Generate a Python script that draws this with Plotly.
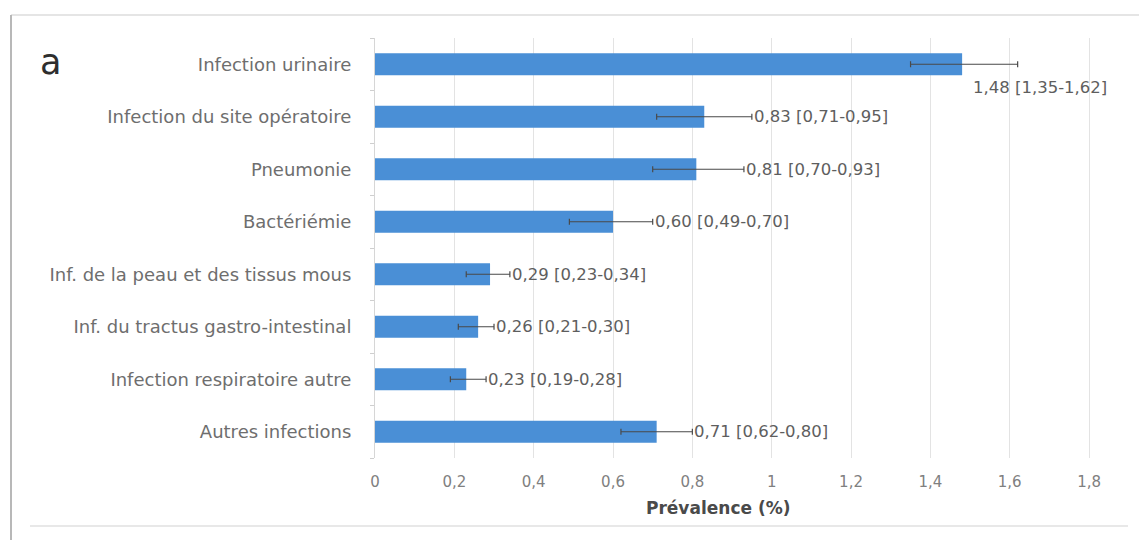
import plotly.graph_objects as go

categories = [
    "Infection urinaire",
    "Infection du site opératoire",
    "Pneumonie",
    "Bactériémie",
    "Inf. de la peau et des tissus mous",
    "Inf. du tractus gastro-intestinal",
    "Infection respiratoire autre",
    "Autres infections",
]
values = [1.48, 0.83, 0.81, 0.60, 0.29, 0.26, 0.23, 0.71]
ci_low = [1.35, 0.71, 0.70, 0.49, 0.23, 0.21, 0.19, 0.62]
ci_high = [1.62, 0.95, 0.93, 0.70, 0.34, 0.30, 0.28, 0.80]
tick_vals = [0, 0.2, 0.4, 0.6, 0.8, 1.0, 1.2, 1.4, 1.6, 1.8]
tick_text = ["0", "0,2", "0,4", "0,6", "0,8", "1", "1,2", "1,4", "1,6", "1,8"]
axis_title = "Prévalence (%)"
panel_letter = "a"

def fr(v):
    return f"{v:.2f}".replace(".", ",")

labels = [f"{fr(v)} [{fr(l)}-{fr(h)}]" for v, l, h in zip(values, ci_low, ci_high)]

W, H = 1139, 540
ML, MR, MT, MB = 375, 10, 38, 82
PW, PH = W - ML - MR, H - MT - MB
FONT = "DejaVu Sans"

def px_x(p):
    return (p - ML) / PW

def px_y(p):
    return (H - MB - p) / PH

fig = go.Figure()
fig.add_trace(go.Bar(
    y=categories, x=values, orientation="h",
    marker=dict(color="#4a8fd6", line=dict(width=0)),
    width=0.42,
    error_x=dict(type="data", symmetric=False,
                 array=[h - v for v, h in zip(values, ci_high)],
                 arrayminus=[v - l for v, l in zip(values, ci_low)],
                 color="#4a4a4a", thickness=1.2, width=3),
    hoverinfo="skip",
))

for i, (c, h, lab) in enumerate(zip(categories, ci_high, labels)):
    if i == 0:
        fig.add_annotation(x=values[i], y=c, text=lab, showarrow=False,
                           xanchor="left", yanchor="middle", yshift=-23, xshift=9,
                           font=dict(family=FONT, size=16.5, color="#5e5e5e"))
    else:
        fig.add_annotation(x=h, y=c, text=lab, showarrow=False,
                           xanchor="left", yanchor="middle", xshift=0,
                           font=dict(family=FONT, size=16.5, color="#5e5e5e"))

# panel letter
fig.add_annotation(xref="paper", yref="paper", x=px_x(38), y=px_y(62), text=panel_letter,
                   showarrow=False, xanchor="left", yanchor="middle",
                   font=dict(family=FONT, size=35, color="#2e2e2e"))

# axis title (positioned as in reference)
fig.add_annotation(xref="paper", yref="paper", x=px_x(718), y=px_y(508), text=axis_title,
                   showarrow=False, xanchor="center", yanchor="middle",
                   font=dict(family=FONT, size=17, color="#4a4a4a", weight="bold"))

# frame lines
fig.add_shape(type="line", xref="paper", yref="paper", x0=px_x(11), x1=px_x(1139),
              y0=px_y(15), y1=px_y(15), line=dict(color="#dcdcdc", width=1.5))
fig.add_shape(type="line", xref="paper", yref="paper", x0=px_x(11), x1=px_x(11),
              y0=px_y(15), y1=px_y(540), line=dict(color="#b8b8b8", width=2))
fig.add_shape(type="line", xref="paper", yref="paper", x0=px_x(30), x1=px_x(1128),
              y0=px_y(526), y1=px_y(526), line=dict(color="#e0e0e0", width=1.5))

fig.update_layout(
    width=W, height=H,
    margin=dict(l=ML, r=MR, t=MT, b=MB, autoexpand=False),
    paper_bgcolor="white", plot_bgcolor="white",
    showlegend=False,
    xaxis=dict(
        range=[0, PW / 396.7], tickvals=tick_vals, ticktext=tick_text,
        showgrid=True, gridcolor="#e3e3e3", gridwidth=1.2,
        zeroline=False, showline=False, ticks="",
        tickfont=dict(family=FONT, size=15, color="#808080"),
        ticklabelstandoff=13,
    ),
    yaxis=dict(
        categoryorder="array", categoryarray=categories[::-1],
        showgrid=False, zeroline=False,
        showline=True, linecolor="#d6d6d6", linewidth=1,
        ticks="outside", ticklen=4, tickcolor="#cfcfcf", tickson="boundaries",
        tickfont=dict(family=FONT, size=18, color="#6e6e6e"),
        ticklabelstandoff=19,
    ),
)

fig.write_html("out.html")
